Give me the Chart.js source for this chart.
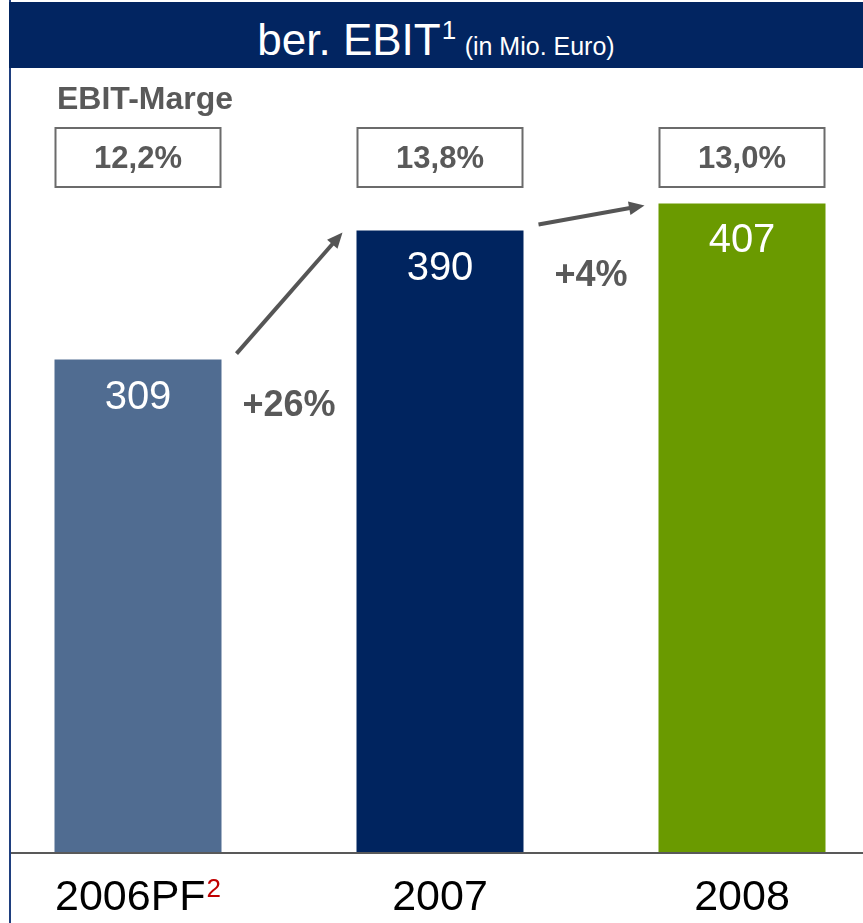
<!DOCTYPE html>
<html>
<head>
<meta charset="utf-8">
<script src="https://cdn.jsdelivr.net/npm/chart.js@4.4.0/dist/chart.umd.min.js"></script>
<style>
  html, body { margin: 0; padding: 0; background: #fff; overflow: hidden; }
  body { width: 863px; height: 923px; position: relative; font-family: "Liberation Sans", Arial, sans-serif; }
  #header {
    position: absolute; left: 9px; top: 2px; width: 854px; height: 66px;
    background: #022561; color: #fff; text-align: center; z-index: 2;
    line-height: 76px; white-space: nowrap;
  }
  #header .main { font-size: 44px; }
  #header sup { font-size: 26px; vertical-align: 16px; line-height: 0; margin-left: 1px; margin-right: 4px; }
  #header .unit { font-size: 25px; }
  #frame {
    position: absolute; left: 9px; top: 0; width: 852px; height: 923px;
    border-left: 2px solid #1f3f7f; overflow: hidden;
  }
  #wrap { position: absolute; left: -24px; top: 0; width: 906px; height: 923px; }
  #margeTitle {
    position: absolute; left: 57px; top: 80px; font-size: 32px; font-weight: bold;
    color: #595959; z-index: 2;
  }
</style>
</head>
<body>
<div id="header"><span class="main">ber. EBIT<sup>1</sup></span> <span class="unit">(in Mio. Euro)</span></div>
<div id="frame"><div id="wrap"><canvas id="ebitChart"></canvas></div></div>
<div id="margeTitle">EBIT-Marge</div>
<script>
// Daten
const years = ['2006PF', '2007', '2008'];
const yearNotes = ['2', '', ''];
const ebit = [309, 390, 407];
const margins = ['12,2%', '13,8%', '13,0%'];
const growth = ['+26%', '+4%'];
const barColors = ['#506c91', '#00245f', '#6a9a00'];

const FONT = '"Liberation Sans", Arial, sans-serif';

// Beschriftungen, Kästen und Pfeile
const annotations = {
  id: 'annotations',
  afterDatasetsDraw(chart) {
    const ctx = chart.ctx;
    const bars = chart.getDatasetMeta(0).data;
    const area = chart.chartArea;
    const xScale = chart.scales.x;
    ctx.save();

    // Achsenlinie
    ctx.strokeStyle = '#595959';
    ctx.lineWidth = 2;
    ctx.beginPath();
    ctx.moveTo(area.left, area.bottom + 1);
    ctx.lineTo(area.right, area.bottom + 1);
    ctx.stroke();

    bars.forEach((bar, i) => {
      const left = bar.x - bar.width / 2;
      const right = bar.x + bar.width / 2;

      // Wert im Balken
      ctx.fillStyle = '#ffffff';
      ctx.font = '40px ' + FONT;
      ctx.textAlign = 'center';
      ctx.textBaseline = 'top';
      ctx.fillText(String(ebit[i]), bar.x, bar.y + 18);

      // Margen-Kasten
      ctx.strokeStyle = '#6b6b6b';
      ctx.lineWidth = 2;
      ctx.strokeRect(left + 1, 128, bar.width - 2, 59);
      ctx.fillStyle = '#595959';
      ctx.font = 'bold 31px ' + FONT;
      ctx.textBaseline = 'middle';
      ctx.fillText(margins[i], bar.x, 159);

      // Jahr + Fußnote
      const px = xScale.getPixelForValue(i);
      ctx.font = '43px ' + FONT;
      const w1 = ctx.measureText(years[i]).width;
      ctx.font = '26px ' + FONT;
      const w2 = yearNotes[i] ? ctx.measureText(yearNotes[i]).width + 1 : 0;
      const start = px - (w1 + w2) / 2;
      ctx.textAlign = 'left';
      ctx.textBaseline = 'alphabetic';
      ctx.fillStyle = '#000000';
      ctx.font = '43px ' + FONT;
      ctx.fillText(years[i], start, 910);
      if (yearNotes[i]) {
        ctx.fillStyle = '#c00000';
        ctx.font = '26px ' + FONT;
        ctx.fillText(yearNotes[i], start + w1 + 1, 897);
      }

      // Pfeil zum nächsten Balken
      if (i < bars.length - 1) {
        const next = bars[i + 1];
        const x0 = right + 15, y0 = bar.y - 6;
        const x1 = next.x - next.width / 2 - 14, y1 = next.y + 2;
        const ang = Math.atan2(y1 - y0, x1 - x0);
        const head = 17;
        ctx.strokeStyle = '#555555';
        ctx.fillStyle = '#555555';
        ctx.lineWidth = 4;
        ctx.beginPath();
        ctx.moveTo(x0, y0);
        ctx.lineTo(x1 - head * 0.7 * Math.cos(ang), y1 - head * 0.7 * Math.sin(ang));
        ctx.stroke();
        ctx.beginPath();
        ctx.moveTo(x1, y1);
        ctx.lineTo(x1 - head * Math.cos(ang - 0.42), y1 - head * Math.sin(ang - 0.42));
        ctx.lineTo(x1 - head * Math.cos(ang + 0.42), y1 - head * Math.sin(ang + 0.42));
        ctx.closePath();
        ctx.fill();

        ctx.fillStyle = '#595959';
        ctx.font = 'bold 36px ' + FONT;
        ctx.textAlign = 'center';
        ctx.textBaseline = 'middle';
        ctx.fillText(growth[i], (right + next.x - next.width / 2) / 2, bar.y + 46);
      }
    });
    ctx.restore();
  }
};

new Chart(document.getElementById('ebitChart'), {
  type: 'bar',
  data: {
    labels: years,
    datasets: [{
      data: ebit,
      backgroundColor: barColors,
      borderWidth: 0,
      barPercentage: 0.553,
      categoryPercentage: 1
    }]
  },
  options: {
    responsive: true,
    maintainAspectRatio: false,
    animation: false,
    layout: { padding: { top: 68, bottom: 71, left: 0, right: 0 } },
    plugins: { legend: { display: false }, tooltip: { enabled: false } },
    scales: {
      x: { display: false },
      y: { display: false, min: 0, max: 492 }
    }
  },
  plugins: [annotations]
});
</script>
</body>
</html>
